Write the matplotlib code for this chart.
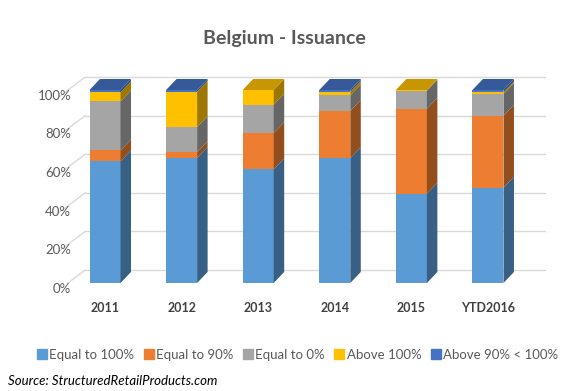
import numpy as np
import matplotlib.pyplot as plt
from matplotlib.patches import Polygon
from matplotlib.lines import Line2D
from matplotlib.colors import to_rgb

plt.rcParams['font.family'] = ['Lato', 'DejaVu Sans']

# data (share of issuance, %)
years = ['2011', '2012', '2013', '2014', '2015', 'YTD2016']
series = ['Equal to 100%', 'Equal to 90%', 'Equal to 0%', 'Above 100%', 'Above 90% < 100%']
eq100 = [63.0, 64.8, 58.9, 64.6, 46.3, 49.4]
eq90 = [5.7, 2.9, 18.8, 24.5, 44.0, 37.3]
eq0 = [25.4, 13.1, 14.7, 8.1, 9.3, 11.2]
above100 = [4.7, 18.3, 7.6, 1.9, 0.4, 0.9]
above90 = [1.2, 0.9, 0.0, 0.9, 0.0, 1.2]
yticks = [0, 20, 40, 60, 80, 100]

colors = ['#5B9BD5', '#ED7D31', '#A5A5A5', '#FFC000', '#4472C4']


def shade(c, f):
    r, g, b = to_rgb(c)
    return (r * f, g * f, b * f)


fig = plt.figure(figsize=(5.73, 3.91), dpi=100)
ax = fig.add_axes([55 / 573, 108 / 391, 495 / 573, 212.3 / 391])
ax.set_xlim(-0.653, 5.81)
ax.set_ylim(0, 110)
ax.axis('off')

w = 0.405     # front face width
dx = 0.137    # depth offset (x)
dy = 5.7      # depth offset (y)
gdy = 6.7     # back wall offset for grid

# gridlines: back wall + side diagonal
for v in yticks:
    ax.plot([-0.26, 5.74], [v + gdy, v + gdy], color='#D9D9D9', lw=1, zorder=0)
    ax.plot([-0.6, -0.26], [v - 3.5, v + gdy], color='#D9D9D9', lw=1, zorder=0)
    ax.text(-0.44, v - 3, f'{v}%', ha='right', va='center', fontsize=9.5, color='#595959')

data = [eq100, eq90, eq0, above100, above90]
for i, yr in enumerate(years):
    bottom = 0
    top_color = None
    x0, x1 = i - w / 2, i + w / 2
    for vals, c in zip(data, colors):
        v = vals[i]
        if v <= 0:
            continue
        ax.bar(i, v, bottom=bottom, width=w, color=c, lw=0, zorder=2)
        side = [(x1, bottom), (x1 + dx, bottom + dy), (x1 + dx, bottom + v + dy), (x1, bottom + v)]
        ax.add_patch(Polygon(side, closed=True, color=shade(c, 0.62), lw=0, zorder=2))
        bottom += v
        top_color = c
    topf = [(x0, bottom), (x0 + dx, bottom + dy), (x1 + dx, bottom + dy), (x1, bottom)]
    ax.add_patch(Polygon(topf, closed=True, color=shade(top_color, 0.78), lw=0, zorder=3))
    ax.text(i, -13, yr, ha='center', va='center', fontsize=9, fontweight='bold', color='#404040')

fig.text(0.497, 1 - 38.5 / 391, 'Belgium - Issuance', ha='center', va='center',
         fontsize=14, fontweight='bold', color='#595959')

handles = [Line2D([0], [0], marker='s', ls='', color=c, markersize=7) for c in colors]
fig.legend(handles, series, loc='center', bbox_to_anchor=(0.519, 1 - 355 / 391), ncol=5,
           frameon=False, fontsize=9.5, handlelength=0.8, handletextpad=0.15, columnspacing=0.7,
           labelcolor='#595959')

fig.text(8 / 573, 1 - 381 / 391, 'Source: StructuredRetailProducts.com', ha='left', va='center',
         fontsize=9.5, fontstyle='italic', color='#000000')

fig.savefig('out.png', dpi=100)
